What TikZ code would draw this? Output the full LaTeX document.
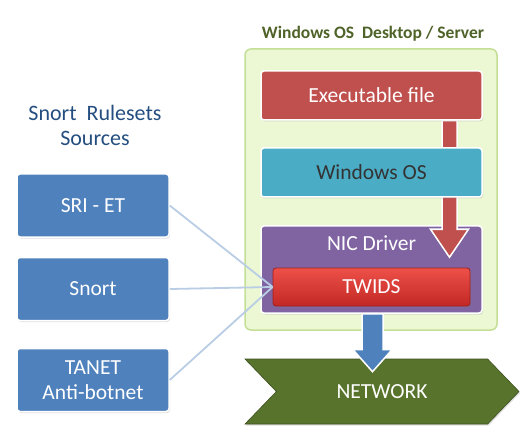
\documentclass[tikz,border=0pt]{standalone}
\usepackage{fontspec}
\setmainfont{Carlito}
\usetikzlibrary{positioning, shapes.symbols, shadows, backgrounds, calc}

\definecolor{exered}{RGB}{192,80,77}
\definecolor{osblue}{RGB}{75,172,198}
\definecolor{nicpurple}{RGB}{128,100,162}
\definecolor{twidstop}{RGB}{236,80,72}
\definecolor{twidsbot}{RGB}{196,40,36}
\definecolor{srcblue}{RGB}{79,129,189}
\definecolor{netgreen}{RGB}{88,115,44}
\definecolor{boxgreen}{RGB}{236,248,212}
\definecolor{boxline}{RGB}{196,222,150}
\definecolor{olivetext}{RGB}{79,98,40}
\definecolor{navytext}{RGB}{36,78,128}
\definecolor{feedblue}{RGB}{185,205,229}

\begin{document}
\begin{tikzpicture}[x=1pt, y=-1pt, every node/.style={font=\fontsize{21.5}{25.5}\selectfont}]
    % styles
    \tikzstyle{layer} = [rectangle, rounded corners=3pt, draw=white, line width=1.5pt, minimum width=221pt, minimum height=49pt, text centered, inner sep=0pt, drop shadow={opacity=0.25, shadow xshift=1pt, shadow yshift=-1.5pt}]
    \tikzstyle{source} = [layer, fill=srcblue, text=white, minimum width=152pt, minimum height=63pt, align=center]
    \tikzstyle{feed} = [line width=1.8pt, draw=feedblue]
    \tikzstyle{blockarrow} = [draw=white, line width=1.5pt]

    \useasboundingbox (0,0) rectangle (532,446);

    % host
    \node (host) [font=\fontsize{17.5}{20}\selectfont\bfseries, text=olivetext] at (373,34) {Windows OS~~Desktop / Server};
    \node (exe) [layer, fill=exered, text=white] at (371.5,95.5) {Executable file};
    \node (os) [layer, fill=osblue, text=black!80] at (371.5,172.5) {Windows OS};
    \node (twids) [layer, draw=twidsbot!80!black, line width=0.8pt, top color=twidstop, bottom color=twidsbot, text=white, minimum width=197pt, minimum height=38pt] at (371.5,287) {TWIDS};

    \begin{pgfonlayer}{background}
        \node (desk) [rectangle, rounded corners=6pt, fill=boxgreen, draw=boxline, line width=1.5pt, minimum width=252pt, minimum height=281pt] at (371,189.5) {};
        \node (nic) [layer, fill=nicpurple, minimum height=87pt, label={[text=white, anchor=north, inner sep=0pt, yshift=-10pt]north:NIC Driver}] at (371.5,269.5) {};
        % executable down to the driver
        \coordinate (redtop) at ([xshift=78pt]exe.south);
        \coordinate (redtip) at ([xshift=78pt, yshift=-32pt]nic.north);
        \draw [blockarrow, fill=exered] ($(redtop)+(-7.5,0)$) -- ($(redtip)+(-7.5,-28)$) -- ($(redtip)+(-19,-28)$) -- (redtip) -- ($(redtip)+(19,-28)$) -- ($(redtip)+(7.5,-28)$) -- ($(redtop)+(7.5,0)$) -- cycle;
    \end{pgfonlayer}

    % rulesets
    \node (rules) [text=navytext, align=center, font=\fontsize{22}{25}\selectfont] at (95,125) {Snort~~Rulesets\\Sources};
    \node (sri) [source] at (93,205.5) {SRI - ET};
    \node (snort) [source] at (93,289) {Snort};
    \node (tanet) [source] at (93,380) {TANET\\Anti-botnet};

    \draw [feed] (sri.east) -- (twids.west);
    \draw [feed] (snort.east) -- (twids.west);
    \draw [feed] (tanet.east) -- (twids.west);

    % network
    \node (net) [signal, signal to=east, signal from=west, signal pointer angle=92, fill=netgreen, draw=netgreen!70!black, line width=0.6pt, text=white, minimum width=274pt, minimum height=65pt, inner sep=0pt, drop shadow={opacity=0.25, shadow xshift=1pt, shadow yshift=-1.5pt}] at (382,391.5) {NETWORK};

    \coordinate (bluetop) at ([xshift=1pt]nic.south);
    \coordinate (bluetip) at ([xshift=-9.5pt, yshift=-13pt]net.north);
    \draw [blockarrow, fill=srcblue] ($(bluetop)+(-10.5,0)$) -- ($(bluetip)+(-10.5,-22)$) -- ($(bluetip)+(-19.5,-22)$) -- (bluetip) -- ($(bluetip)+(19.5,-22)$) -- ($(bluetip)+(10.5,-22)$) -- ($(bluetop)+(10.5,0)$) -- cycle;
\end{tikzpicture}
\end{document}
